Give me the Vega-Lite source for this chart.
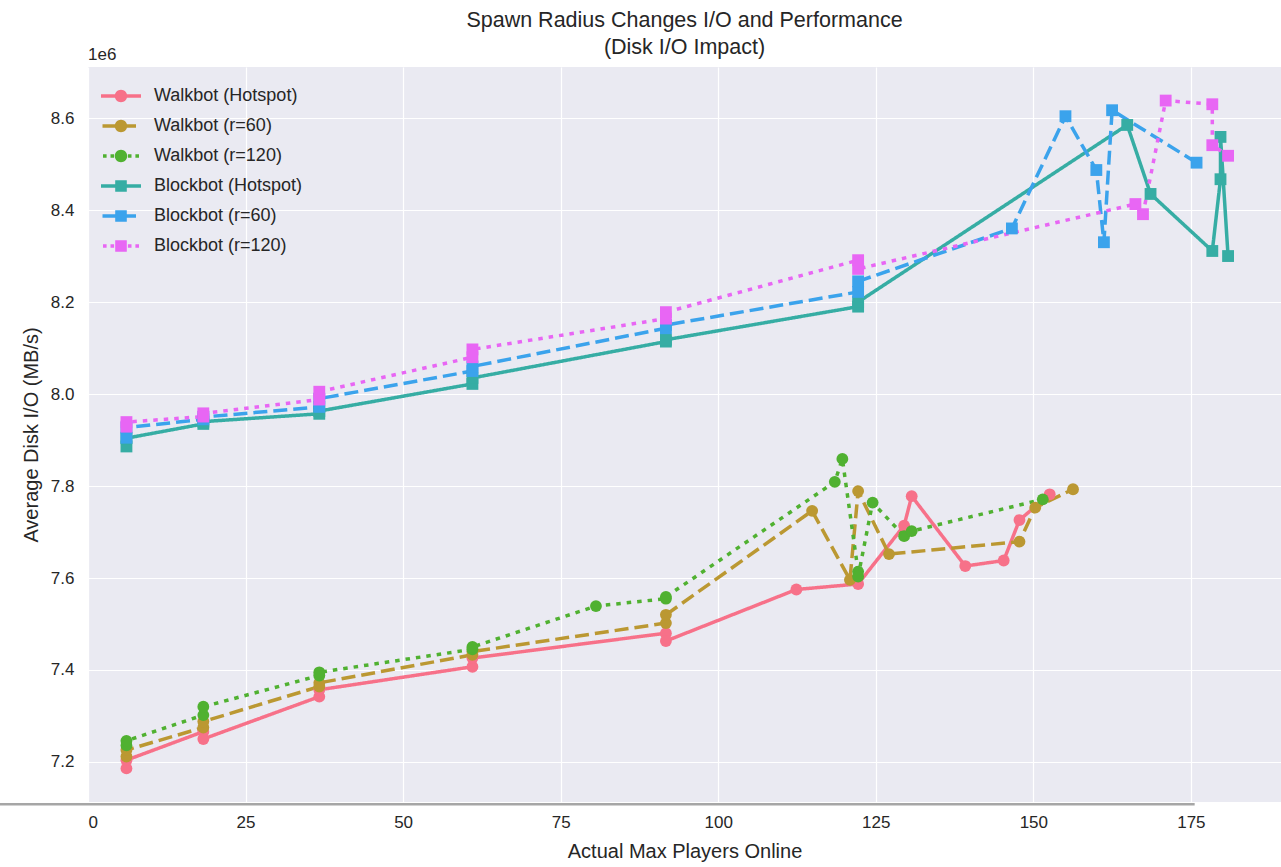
{
  "$schema": "https://vega.github.io/schema/vega-lite/v6.json",
  "autosize": {"type": "none"},
  "padding": {"left": 88, "top": 67, "right": 0, "bottom": 65},
  "width": 1193,
  "height": 735,
  "background": "#ffffff",
  "title": {
    "text": ["Spawn Radius Changes I/O and Performance", "(Disk I/O Impact)"],
    "fontSize": 21.5,
    "font": "Liberation Sans",
    "fontWeight": "normal",
    "color": "#262626",
    "lineHeight": 27,
    "offset": -12,
    "anchor": "middle"
  },
  "config": {
    "view": {"fill": "#EAEAF2", "stroke": null},
    "font": "Liberation Sans",
    "axis": {
      "labelFont": "Liberation Sans",
      "labelFontSize": 17,
      "labelColor": "#262626",
      "titleFont": "Liberation Sans",
      "titleFontSize": 20,
      "titleColor": "#262626",
      "titleFontWeight": "normal",
      "grid": true,
      "gridColor": "#ffffff",
      "gridWidth": 1.2,
      "domain": false,
      "ticks": false,
      "tickSize": 0
    }
  },
  "data": {
    "values": [
      {"series": "Walkbot (Hotspot)", "players": 6.1, "io": 7186000},
      {"series": "Walkbot (Hotspot)", "players": 6.1, "io": 7204000},
      {"series": "Walkbot (Hotspot)", "players": 18.3, "io": 7266000},
      {"series": "Walkbot (Hotspot)", "players": 18.3, "io": 7250000},
      {"series": "Walkbot (Hotspot)", "players": 36.7, "io": 7342000},
      {"series": "Walkbot (Hotspot)", "players": 36.7, "io": 7357000},
      {"series": "Walkbot (Hotspot)", "players": 61.0, "io": 7407000},
      {"series": "Walkbot (Hotspot)", "players": 61.0, "io": 7426000},
      {"series": "Walkbot (Hotspot)", "players": 91.7, "io": 7480000},
      {"series": "Walkbot (Hotspot)", "players": 91.7, "io": 7463000},
      {"series": "Walkbot (Hotspot)", "players": 112.4, "io": 7575000},
      {"series": "Walkbot (Hotspot)", "players": 122.2, "io": 7587000},
      {"series": "Walkbot (Hotspot)", "players": 129.5, "io": 7714000},
      {"series": "Walkbot (Hotspot)", "players": 130.7, "io": 7778000},
      {"series": "Walkbot (Hotspot)", "players": 139.2, "io": 7626000},
      {"series": "Walkbot (Hotspot)", "players": 145.3, "io": 7638000},
      {"series": "Walkbot (Hotspot)", "players": 147.8, "io": 7726000},
      {"series": "Walkbot (Hotspot)", "players": 152.6, "io": 7782000},

      {"series": "Walkbot (r=60)", "players": 6.1, "io": 7212000},
      {"series": "Walkbot (r=60)", "players": 6.1, "io": 7226000},
      {"series": "Walkbot (r=60)", "players": 18.3, "io": 7275000},
      {"series": "Walkbot (r=60)", "players": 18.3, "io": 7288000},
      {"series": "Walkbot (r=60)", "players": 36.7, "io": 7364000},
      {"series": "Walkbot (r=60)", "players": 36.7, "io": 7372000},
      {"series": "Walkbot (r=60)", "players": 61.0, "io": 7433000},
      {"series": "Walkbot (r=60)", "players": 61.0, "io": 7440000},
      {"series": "Walkbot (r=60)", "players": 91.7, "io": 7502000},
      {"series": "Walkbot (r=60)", "players": 91.7, "io": 7520000},
      {"series": "Walkbot (r=60)", "players": 114.9, "io": 7746000},
      {"series": "Walkbot (r=60)", "players": 120.9, "io": 7596000},
      {"series": "Walkbot (r=60)", "players": 122.2, "io": 7789000},
      {"series": "Walkbot (r=60)", "players": 127.1, "io": 7652000},
      {"series": "Walkbot (r=60)", "players": 147.8, "io": 7679000},
      {"series": "Walkbot (r=60)", "players": 150.3, "io": 7753000},
      {"series": "Walkbot (r=60)", "players": 156.3, "io": 7793000},

      {"series": "Walkbot (r=120)", "players": 6.1, "io": 7236000},
      {"series": "Walkbot (r=120)", "players": 6.1, "io": 7246000},
      {"series": "Walkbot (r=120)", "players": 18.3, "io": 7302000},
      {"series": "Walkbot (r=120)", "players": 18.3, "io": 7320000},
      {"series": "Walkbot (r=120)", "players": 36.7, "io": 7388000},
      {"series": "Walkbot (r=120)", "players": 36.7, "io": 7395000},
      {"series": "Walkbot (r=120)", "players": 61.0, "io": 7445000},
      {"series": "Walkbot (r=120)", "players": 61.0, "io": 7450000},
      {"series": "Walkbot (r=120)", "players": 80.6, "io": 7539000},
      {"series": "Walkbot (r=120)", "players": 91.7, "io": 7555000},
      {"series": "Walkbot (r=120)", "players": 91.7, "io": 7559000},
      {"series": "Walkbot (r=120)", "players": 118.5, "io": 7809000},
      {"series": "Walkbot (r=120)", "players": 119.7, "io": 7859000},
      {"series": "Walkbot (r=120)", "players": 122.2, "io": 7614000},
      {"series": "Walkbot (r=120)", "players": 122.2, "io": 7603000},
      {"series": "Walkbot (r=120)", "players": 124.5, "io": 7764000},
      {"series": "Walkbot (r=120)", "players": 129.5, "io": 7691000},
      {"series": "Walkbot (r=120)", "players": 130.7, "io": 7702000},
      {"series": "Walkbot (r=120)", "players": 151.5, "io": 7771000},

      {"series": "Blockbot (Hotspot)", "players": 6.1, "io": 7886000},
      {"series": "Blockbot (Hotspot)", "players": 6.1, "io": 7904000},
      {"series": "Blockbot (Hotspot)", "players": 18.3, "io": 7935000},
      {"series": "Blockbot (Hotspot)", "players": 18.3, "io": 7940000},
      {"series": "Blockbot (Hotspot)", "players": 36.7, "io": 7957000},
      {"series": "Blockbot (Hotspot)", "players": 36.7, "io": 7963000},
      {"series": "Blockbot (Hotspot)", "players": 61.0, "io": 8022000},
      {"series": "Blockbot (Hotspot)", "players": 61.0, "io": 8035000},
      {"series": "Blockbot (Hotspot)", "players": 91.7, "io": 8114000},
      {"series": "Blockbot (Hotspot)", "players": 91.7, "io": 8118000},
      {"series": "Blockbot (Hotspot)", "players": 122.2, "io": 8190000},
      {"series": "Blockbot (Hotspot)", "players": 122.2, "io": 8200000},
      {"series": "Blockbot (Hotspot)", "players": 164.9, "io": 8585000},
      {"series": "Blockbot (Hotspot)", "players": 168.6, "io": 8435000},
      {"series": "Blockbot (Hotspot)", "players": 178.4, "io": 8311000},
      {"series": "Blockbot (Hotspot)", "players": 179.7, "io": 8467000},
      {"series": "Blockbot (Hotspot)", "players": 179.7, "io": 8559000},
      {"series": "Blockbot (Hotspot)", "players": 180.9, "io": 8300000},

      {"series": "Blockbot (r=60)", "players": 6.1, "io": 7905000},
      {"series": "Blockbot (r=60)", "players": 6.1, "io": 7927000},
      {"series": "Blockbot (r=60)", "players": 18.3, "io": 7945000},
      {"series": "Blockbot (r=60)", "players": 18.3, "io": 7950000},
      {"series": "Blockbot (r=60)", "players": 36.7, "io": 7972000},
      {"series": "Blockbot (r=60)", "players": 36.7, "io": 7990000},
      {"series": "Blockbot (r=60)", "players": 61.0, "io": 8050000},
      {"series": "Blockbot (r=60)", "players": 61.0, "io": 8060000},
      {"series": "Blockbot (r=60)", "players": 91.7, "io": 8143000},
      {"series": "Blockbot (r=60)", "players": 91.7, "io": 8150000},
      {"series": "Blockbot (r=60)", "players": 122.2, "io": 8222000},
      {"series": "Blockbot (r=60)", "players": 122.2, "io": 8245000},
      {"series": "Blockbot (r=60)", "players": 146.6, "io": 8360000},
      {"series": "Blockbot (r=60)", "players": 155.1, "io": 8604000},
      {"series": "Blockbot (r=60)", "players": 160.0, "io": 8487000},
      {"series": "Blockbot (r=60)", "players": 161.2, "io": 8330000},
      {"series": "Blockbot (r=60)", "players": 162.5, "io": 8617000},
      {"series": "Blockbot (r=60)", "players": 175.9, "io": 8503000},

      {"series": "Blockbot (r=120)", "players": 6.1, "io": 7929000},
      {"series": "Blockbot (r=120)", "players": 6.1, "io": 7939000},
      {"series": "Blockbot (r=120)", "players": 18.3, "io": 7951000},
      {"series": "Blockbot (r=120)", "players": 18.3, "io": 7958000},
      {"series": "Blockbot (r=120)", "players": 36.7, "io": 7988000},
      {"series": "Blockbot (r=120)", "players": 36.7, "io": 8005000},
      {"series": "Blockbot (r=120)", "players": 61.0, "io": 8080000},
      {"series": "Blockbot (r=120)", "players": 61.0, "io": 8097000},
      {"series": "Blockbot (r=120)", "players": 91.7, "io": 8164000},
      {"series": "Blockbot (r=120)", "players": 91.7, "io": 8178000},
      {"series": "Blockbot (r=120)", "players": 122.2, "io": 8291000},
      {"series": "Blockbot (r=120)", "players": 122.2, "io": 8272000},
      {"series": "Blockbot (r=120)", "players": 166.2, "io": 8413000},
      {"series": "Blockbot (r=120)", "players": 167.4, "io": 8391000},
      {"series": "Blockbot (r=120)", "players": 171.0, "io": 8638000},
      {"series": "Blockbot (r=120)", "players": 178.4, "io": 8630000},
      {"series": "Blockbot (r=120)", "players": 178.4, "io": 8541000},
      {"series": "Blockbot (r=120)", "players": 180.9, "io": 8518000}
    ]
  },
  "layer": [
    {
      "mark": {"type": "line", "strokeWidth": 3.5, "clip": false},
      "encoding": {
        "x": {
          "field": "players", "type": "quantitative",
          "scale": {"domain": [0, 189.3], "nice": false, "zero": false},
          "axis": {"values": [0, 25, 50, 75, 100, 125, 150, 175], "labelPadding": 12, "titlePadding": 11},
          "title": "Actual Max Players Online"
        },
        "y": {
          "field": "io", "type": "quantitative",
          "scale": {"domain": [7113000, 8711000], "nice": false, "zero": false},
          "axis": {
            "values": [7200000, 7400000, 7600000, 7800000, 8000000, 8200000, 8400000, 8600000],
            "labelExpr": "format(datum.value / 1000000, '.1f')",
            "labelPadding": 14,
            "titlePadding": 9
          },
          "title": "Average Disk I/O (MB/s)"
        },
        "color": {
          "field": "series", "type": "nominal",
          "scale": {
            "domain": ["Walkbot (Hotspot)", "Walkbot (r=60)", "Walkbot (r=120)", "Blockbot (Hotspot)", "Blockbot (r=60)", "Blockbot (r=120)"],
            "range": ["#f77189", "#bb9832", "#50b131", "#36ada4", "#3ba3ec", "#e866f4"]
          },
          "legend": {
            "title": null,
            "orient": "none",
            "legendX": 23,
            "legendY": 19,
            "padding": 0,
            "symbolSize": 400,
            "symbolStrokeWidth": 0,
            "symbolType": "circle",
            "labelFont": "Liberation Sans",
            "labelFontSize": 18,
            "labelColor": "#262626",
            "labelOffset": 23,
            "rowPadding": 11,
            "encode": {
              "symbols": {
                "update": {
                  "shape": {"signal": "datum.value === 'Walkbot (Hotspot)' ? 'M-2,-0.18H-0.5V0.18H-2Z M0.5,-0.18H2V0.18H0.5Z M-0.62,0A0.62,0.62,0,1,1,0.62,0A0.62,0.62,0,1,1,-0.62,0Z' : datum.value === 'Walkbot (r=60)' ? 'M-1.85,-0.18H-0.5V0.18H-1.85Z M0.5,-0.18H1.5V0.18H0.5Z M-0.62,0A0.62,0.62,0,1,1,0.62,0A0.62,0.62,0,1,1,-0.62,0Z' : datum.value === 'Walkbot (r=120)' ? 'M-1.8,-0.18H-1.44V0.18H-1.8Z M-1.05,-0.18H-0.69V0.18H-1.05Z M0.69,-0.18H1.05V0.18H0.69Z M1.44,-0.18H1.8V0.18H1.44Z M-0.62,0A0.62,0.62,0,1,1,0.62,0A0.62,0.62,0,1,1,-0.62,0Z' : datum.value === 'Blockbot (Hotspot)' ? 'M-2,-0.18H-0.5V0.18H-2Z M0.5,-0.18H2V0.18H0.5Z M-0.58,-0.58H0.58V0.58H-0.58Z' : datum.value === 'Blockbot (r=60)' ? 'M-1.85,-0.18H-0.5V0.18H-1.85Z M0.5,-0.18H1.5V0.18H0.5Z M-0.58,-0.58H0.58V0.58H-0.58Z' : 'M-1.8,-0.18H-1.44V0.18H-1.8Z M-1.05,-0.18H-0.69V0.18H-1.05Z M0.69,-0.18H1.05V0.18H0.69Z M1.44,-0.18H1.8V0.18H1.44Z M-0.58,-0.58H0.58V0.58H-0.58Z'"},
                  "fill": {"signal": "scale('color', datum.value)"},
                  "stroke": {"value": "transparent"},
                  "strokeWidth": {"value": 0},
                  "size": {"value": 400},
                  "opacity": {"value": 1}
                }
              }
            }
          }
        },
        "strokeDash": {
          "field": "series", "type": "nominal",
          "scale": {
            "domain": ["Walkbot (Hotspot)", "Walkbot (r=60)", "Walkbot (r=120)", "Blockbot (Hotspot)", "Blockbot (r=60)", "Blockbot (r=120)"],
            "range": [[1, 0], [14, 6], [4.5, 6], [1, 0], [14, 6], [4.5, 6]]
          },
          "legend": null
        }
      }
    },
    {
      "transform": [{"filter": "indexof(datum.series, 'Walkbot') === 0"}],
      "mark": {"type": "point", "shape": "circle", "filled": true, "opacity": 1, "size": 140, "strokeWidth": 0, "clip": false},
      "encoding": {
        "x": {"field": "players", "type": "quantitative"},
        "y": {"field": "io", "type": "quantitative"},
        "color": {"field": "series", "type": "nominal"}
      }
    },
    {
      "transform": [{"filter": "indexof(datum.series, 'Blockbot') === 0"}],
      "mark": {"type": "point", "shape": "square", "filled": true, "opacity": 1, "size": 140, "strokeWidth": 0, "clip": false},
      "encoding": {
        "x": {"field": "players", "type": "quantitative"},
        "y": {"field": "io", "type": "quantitative"},
        "color": {"field": "series", "type": "nominal"}
      }
    },
    {
      "data": {"values": [{"from": -14.0, "to": 175.6, "level": 7108000}]},
      "mark": {"type": "rule", "color": "#a6a6a6", "strokeWidth": 2.5, "clip": false},
      "encoding": {
        "x": {"field": "from", "type": "quantitative"},
        "x2": {"field": "to"},
        "y": {"field": "level", "type": "quantitative"}
      }
    },
    {
      "data": {"values": [{"label": "1e6", "px": 0, "level": 8737000}]},
      "mark": {"type": "text", "align": "left", "baseline": "middle", "fontSize": 17, "font": "Liberation Sans", "color": "#262626", "clip": false},
      "encoding": {
        "x": {"field": "px", "type": "quantitative"},
        "y": {"field": "level", "type": "quantitative"},
        "text": {"field": "label"}
      }
    }
  ]
}
